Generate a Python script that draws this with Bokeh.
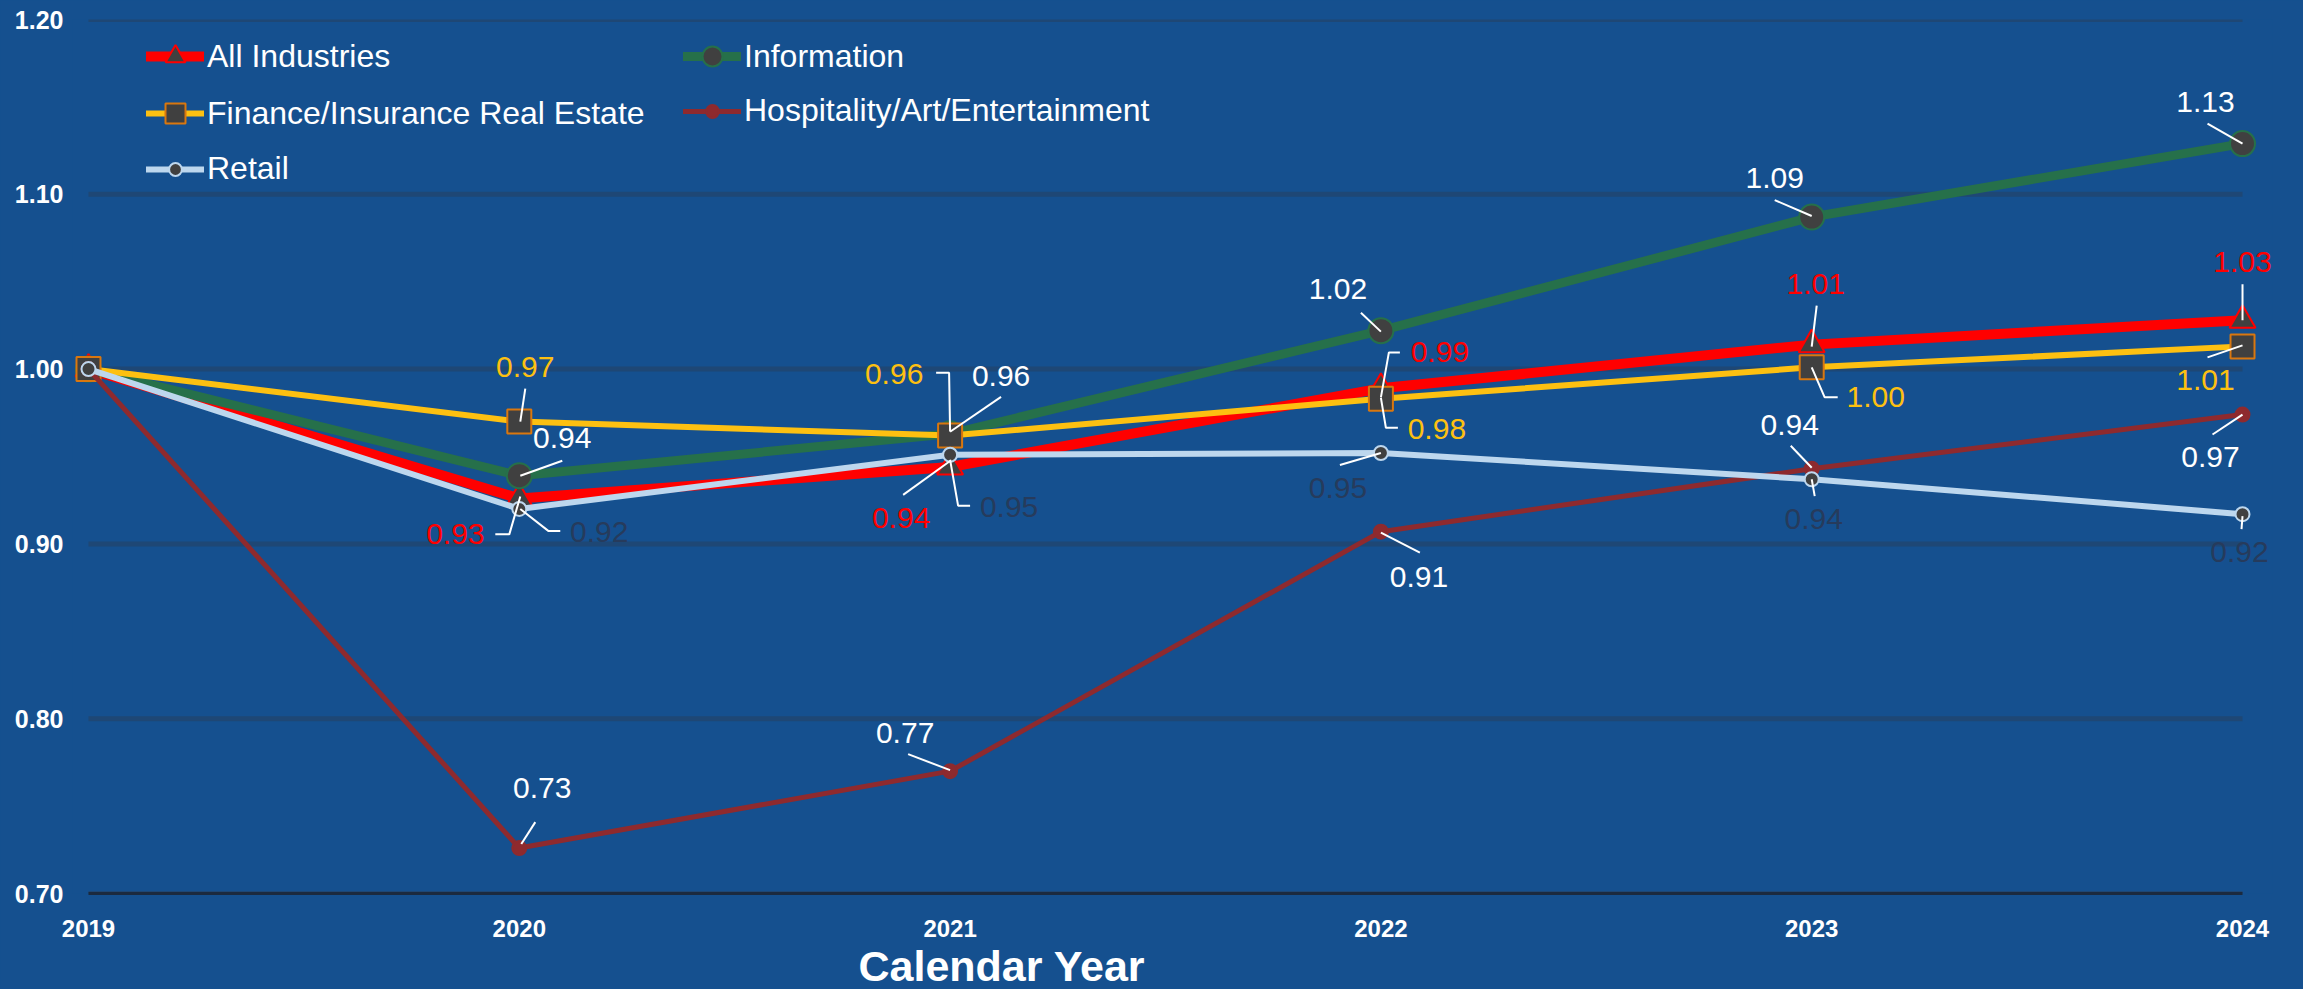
from bokeh.plotting import figure
from bokeh.embed import file_html
from bokeh.resources import INLINE
from bokeh.core.properties import value
from bokeh.models import Legend, LegendItem, FixedTicker, NumeralTickFormatter, Title

# ---------------- data ----------------
years = [2019, 2020, 2021, 2022, 2023, 2024]
all_industries = [1.00, 0.926, 0.944, 0.989, 1.014, 1.028]
information = [1.00, 0.939, 0.963, 1.022, 1.087, 1.129]
finance = [1.00, 0.970, 0.962, 0.983, 1.001, 1.013]
hospitality = [1.00, 0.726, 0.770, 0.907, 0.943, 0.974]
retail = [1.00, 0.920, 0.951, 0.952, 0.937, 0.917]
y_ticks = [0.70, 0.80, 0.90, 1.00, 1.10, 1.20]

# ---------------- styling ----------------
BG = "#15508F"
GRID = "#1E4775"
FONT = "Liberation Sans"
PXX = 431.0   # px per year
PXY = 1752.0  # px per unit
PAD_L = 16 / PXX
PAD_R = 30 / PXX

# label offsets (px, dy positive = down) and leader polylines relative to point, for 2020..2024
lab_all = [(-64, 36), (-49, 51), (59, -36), (4, -61), (0, -58)]
lead_all = [[(1, -2), (-10, 36), (-24, 36)], [(0, -6), (-47, 28)], [(0, 9), (8, -36), (19, -36)],
            [(0, 2), (5, -39)], [(0, 0), (0, -36)]]
lab_info = [(43, -38), (51, -58), (-43, -42), (-37, -39), (-37, -42)]
lead_info = [[(1, 0), (43, -15)], [(0, -2), (51, -37)], [(0, 1), (-20, -18)], [(0, -1), (-37, -17)],
             [(0, 0), (-35, -20)]]
lab_fin = [(6, -55), (-56, -62), (56, 30), (64, 30), (-37, 34)]
lead_fin = [[(1, 0), (6, -33)], [(0, -4), (-1, -63), (-14, -63)], [(0, -1), (5, 29), (17, 29)],
            [(0, 0), (13, 30), (26, 30)], [(0, -1), (-35, 11)]]
lab_hosp = [(23, -60), (-45, -38), (38, 45), (-22, -44), (-32, 43)]
lead_hosp = [[(2, -4), (16, -26)], [(0, -1), (-42, -17)], [(0, 1), (39, 21)], [(0, -1), (-21, -23)],
             [(0, 0), (-30, 20)]]
lab_ret = [(80, 23), (59, 52), (-43, 35), (2, 40), (-3, 38)]
lead_ret = [[(1, 0), (29, 22), (41, 22)], [(0, 5), (8, 51), (20, 51)], [(0, 0), (-41, 12)],
            [(0, 0), (3, 17)], [(0, 2), (-1, 15)]]

series = [
    dict(name="All Industries", vals=all_industries, color="#FF0000", lw=10, marker="triangle", size=26,
         fill="#404040", mline="#FF0000", lab_color="#FF0000", lab=lab_all, lead=lead_all),
    dict(name="Information", vals=information, color="#26704A", lw=9, marker="circle", size=25,
         fill="#404040", mline="#26704A", lab_color="#FFFFFF", lab=lab_info, lead=lead_info),
    dict(name="Finance/Insurance Real Estate", vals=finance, color="#FDC011", lw=6, marker="square", size=24,
         fill="#404040", mline="#D9770F", lab_color="#FDC011", lab=lab_fin, lead=lead_fin),
    dict(name="Hospitality/Art/Entertainment", vals=hospitality, color="#8E2A2E", lw=5, marker="circle", size=14,
         fill="#8E2A2E", mline="#8E2A2E", lab_color="#FFFFFF", lab=lab_hosp, lead=lead_hosp),
    dict(name="Retail", vals=retail, color="#BDD7EE", lw=6, marker="circle", size=14,
         fill="#404040", mline="#BDD7EE", lab_color="#263B5C", lab=lab_ret, lead=lead_ret),
]

p = figure(width=2303, height=989, x_range=(years[0] - PAD_L, years[-1] + PAD_R), y_range=(0.70, 1.20),
           output_backend="svg", toolbar_location=None,
           background_fill_color=BG, border_fill_color=BG,
           min_border_left=72, min_border_right=31, min_border_top=19, min_border_bottom=94)
p.styles = {"background-color": BG}
p.outline_line_color = None
p.xgrid.grid_line_color = None
p.ygrid.grid_line_color = None

# horizontal grid lines limited to the year span
p.segment(x0=[years[0]] * len(y_ticks), x1=[years[-1]] * len(y_ticks), y0=y_ticks, y1=y_ticks,
          line_color=GRID, line_width=5)

p.yaxis.ticker = FixedTicker(ticks=y_ticks)
p.yaxis.formatter = NumeralTickFormatter(format="0.00")
p.xaxis.ticker = FixedTicker(ticks=years)
p.xaxis.formatter = NumeralTickFormatter(format="0")
for ax in (p.xaxis, p.yaxis):
    ax.major_label_text_font = FONT
    ax.major_label_text_font_style = "bold"
    ax.major_label_text_font_size = "24px"
    ax.major_label_text_color = "#FFFFFF"
    ax.major_tick_line_color = None
    ax.minor_tick_line_color = None
p.yaxis.major_label_text_font_size = "25px"
p.xaxis.major_label_standoff = 20
p.yaxis.major_label_standoff = 3
p.yaxis.axis_line_color = None
p.xaxis.axis_line_color = "#1B2A3F"
p.xaxis.axis_line_width = 3
p.xaxis.bounds = (years[0], years[-1])

items = {}
for s in series:
    rl = p.line(years, s["vals"], line_color=s["color"], line_width=s["lw"],
                line_cap="round", line_join="round")
    rm = p.scatter(years, s["vals"], marker=s["marker"], size=s["size"], fill_color=s["fill"],
                   line_color=s["mline"], line_width=2)
    items[s["name"]] = LegendItem(label=s["name"], renderers=[rl, rm])

# data labels with leader lines
for s in series:
    lx, ly, lt = [], [], []
    xs, ys = [], []
    for i, yr in enumerate(years[1:]):
        v = s["vals"][i + 1]
        dx, dy = s["lab"][i]
        lx.append(yr + dx / PXX)
        ly.append(v - dy / PXY)
        lt.append(f"{v:.2f}")
        xs.append([yr + a / PXX for a, b in s["lead"][i]])
        ys.append([v - b / PXY for a, b in s["lead"][i]])
    p.multi_line(xs, ys, line_color="#FFFFFF", line_width=2)
    p.text(lx, ly, text=lt, text_align="center", text_baseline="middle",
           text_font=value(FONT), text_font_size="30px", text_color=s["lab_color"])

def make_legend(names, gh, loc, spacing=7):
    return Legend(items=[items[n] for n in names], location=loc,
                  border_line_alpha=0, background_fill_alpha=0, label_text_font=FONT,
                  label_text_font_size="32px", label_text_color="#FFFFFF", label_height=gh,
                  glyph_height=gh, glyph_width=58, spacing=spacing, padding=0, margin=0,
                  label_standoff=3)

p.add_layout(make_legend(["All Industries", "Finance/Insurance Real Estate"], 50, (74, 755)))
p.add_layout(make_legend(["Retail"], 32, (74, 706)))
p.add_layout(make_legend(["Information"], 50, (611, 812)))
p.add_layout(make_legend(["Hospitality/Art/Entertainment"], 32, (611, 764)))

t = Title(text="Calendar Year", align="left", offset=786, text_font=FONT, text_font_size="43px",
          text_font_style="bold", text_color="#FFFFFF", standoff=0)
p.add_layout(t, "below")

open("out.html", "w").write(file_html(p, INLINE))
